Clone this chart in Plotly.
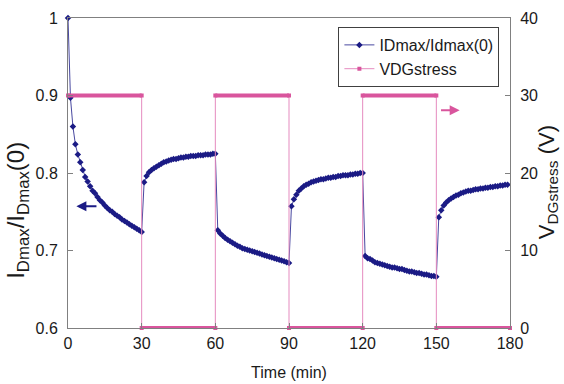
import plotly.graph_objects as go

# Normalised maximum drain current, sampled once per minute
time_min = list(range(0, 180))
id_ratio = [
    # 0-30 min: stress on
    1.000, 0.897, 0.860, 0.837, 0.824, 0.814, 0.804, 0.795, 0.789, 0.783,
    0.777, 0.774, 0.769, 0.765, 0.762, 0.758, 0.755, 0.752, 0.750, 0.747,
    0.745, 0.743, 0.740, 0.738, 0.736, 0.734, 0.732, 0.730, 0.728, 0.726,
    0.724,
    # 31-60 min: recovery
    0.788, 0.796, 0.801, 0.804, 0.806, 0.808, 0.810, 0.812, 0.814, 0.815,
    0.816, 0.817, 0.818, 0.818, 0.819, 0.820, 0.820, 0.821, 0.821, 0.822,
    0.822, 0.822, 0.823, 0.823, 0.823, 0.824, 0.824, 0.824, 0.825, 0.825,
    # 61-90 min: stress on
    0.726, 0.722, 0.719, 0.716, 0.714, 0.712, 0.710, 0.708, 0.706, 0.705,
    0.703, 0.702, 0.701, 0.700, 0.699, 0.698, 0.697, 0.696, 0.695, 0.694,
    0.693, 0.692, 0.691, 0.690, 0.689, 0.688, 0.687, 0.686, 0.685, 0.684,
    # 91-120 min: recovery
    0.757, 0.766, 0.772, 0.777, 0.780, 0.783, 0.785, 0.786, 0.788, 0.789,
    0.790, 0.791, 0.792, 0.792, 0.793, 0.794, 0.794, 0.795, 0.795, 0.796,
    0.796, 0.797, 0.797, 0.797, 0.798, 0.798, 0.799, 0.799, 0.800, 0.800,
    # 121-150 min: stress on
    0.693, 0.690, 0.689, 0.687, 0.685, 0.684, 0.683, 0.682, 0.681, 0.680,
    0.679, 0.678, 0.678, 0.677, 0.676, 0.676, 0.675, 0.674, 0.673, 0.673,
    0.672, 0.671, 0.671, 0.670, 0.669, 0.669, 0.668, 0.667, 0.667, 0.666,
    # 151-179 min: recovery
    0.743, 0.752, 0.758, 0.762, 0.765, 0.767, 0.769, 0.771, 0.772, 0.774,
    0.775, 0.776, 0.777, 0.777, 0.778, 0.779, 0.779, 0.780, 0.780, 0.781,
    0.781, 0.782, 0.782, 0.783, 0.783, 0.784, 0.784, 0.785, 0.785,
]

# Drain-gate stress voltage (step waveform)
v_time = [0, 30, 30, 60, 60, 90, 90, 120, 120, 150, 150, 180]
v_stress = [30, 30, 0, 0, 30, 30, 0, 0, 30, 30, 0, 0]

x_ticks = [0, 30, 60, 90, 120, 150, 180]

NAVY = "#1b1b85"
PINK = "#d9559d"
PINK_LIGHT = "#e58bbf"
AXIS = "#808080"
TEXT = "#1a1a1a"
FONT = "Arial, Liberation Sans, sans-serif"

# Horizontal plateaus of the stress waveform drawn as thick bars
bar_x, bar_y = [], []
for i in range(0, len(v_time), 2):
    bar_x += [v_time[i], v_time[i + 1], None]
    bar_y += [v_stress[i], v_stress[i + 1], None]

fig = go.Figure()

fig.add_trace(go.Scatter(
    x=time_min, y=id_ratio, name="IDmax/Idmax(0)",
    mode="lines+markers",
    line=dict(color="#4848a0", width=1),
    marker=dict(symbol="diamond", size=5, color=NAVY),
    cliponaxis=False, yaxis="y",
))

fig.add_trace(go.Scatter(
    x=v_time, y=v_stress, name="VDGstress",
    mode="lines+markers",
    line=dict(color=PINK_LIGHT, width=1),
    marker=dict(symbol="square", size=4, color=PINK),
    cliponaxis=False, yaxis="y2",
))

fig.add_trace(go.Scatter(
    x=bar_x, y=bar_y, mode="lines", showlegend=False,
    line=dict(color=PINK, width=4),
    cliponaxis=False, yaxis="y2", hoverinfo="skip",
))

axis_common = dict(
    showgrid=False, zeroline=False, showline=True, linecolor=AXIS,
    linewidth=1, ticks="inside", ticklen=5, tickcolor=AXIS,
    tickfont=dict(family=FONT, size=16, color=TEXT), automargin=False,
)

fig.update_layout(
    width=564, height=384,
    margin=dict(l=68, r=54, t=18, b=56),
    paper_bgcolor="white", plot_bgcolor="white",
    font=dict(family=FONT, color=TEXT),
    xaxis=dict(
        range=[0, 180], tickvals=x_ticks, mirror=True,
        title=dict(text="Time (min)", font=dict(family=FONT, size=16),
                   standoff=15),
        ticklabelstandoff=1,
        **axis_common,
    ),
    yaxis=dict(
        range=[0.6, 1.0], dtick=0.1, ticklabelstandoff=6,
        **axis_common,
    ),
    yaxis2=dict(
        range=[0, 40], dtick=10, overlaying="y", side="right",
        ticklabelstandoff=6,
        **axis_common,
    ),
    legend=dict(
        x=0.976, y=0.971, xanchor="right", yanchor="top",
        bgcolor="white", bordercolor="#404040", borderwidth=1,
        font=dict(family=FONT, size=16, color=TEXT),
        tracegroupgap=0, itemwidth=30,
    ),
    showlegend=True,
)

fig.add_annotation(
    text="I<sub>Dmax</sub>/I<sub>Dmax</sub>(0)", textangle=-90,
    xref="paper", yref="paper", x=-0.114, y=0.38,
    xanchor="center", yanchor="middle", showarrow=False,
    font=dict(family=FONT, size=24, color=TEXT),
)
fig.add_annotation(
    text="V<sub>DGstress</sub> (V)", textangle=-90,
    xref="paper", yref="paper", x=1.086, y=0.47,
    xanchor="center", yanchor="middle", showarrow=False,
    font=dict(family=FONT, size=22, color=TEXT),
)

# Arrows pointing each curve to its axis
fig.add_annotation(
    x=3.4, y=0.757, ax=12.2, ay=0.757, xref="x", yref="y",
    axref="x", ayref="y", text="", showarrow=True,
    arrowhead=2, arrowsize=1, arrowwidth=2, arrowcolor=NAVY,
)
fig.add_annotation(
    x=159.5, y=28.1, ax=151.3, ay=28.1, xref="x", yref="y2",
    axref="x", ayref="y2", text="", showarrow=True,
    arrowhead=2, arrowsize=1, arrowwidth=2, arrowcolor=PINK,
)

fig.write_html("out.html")
